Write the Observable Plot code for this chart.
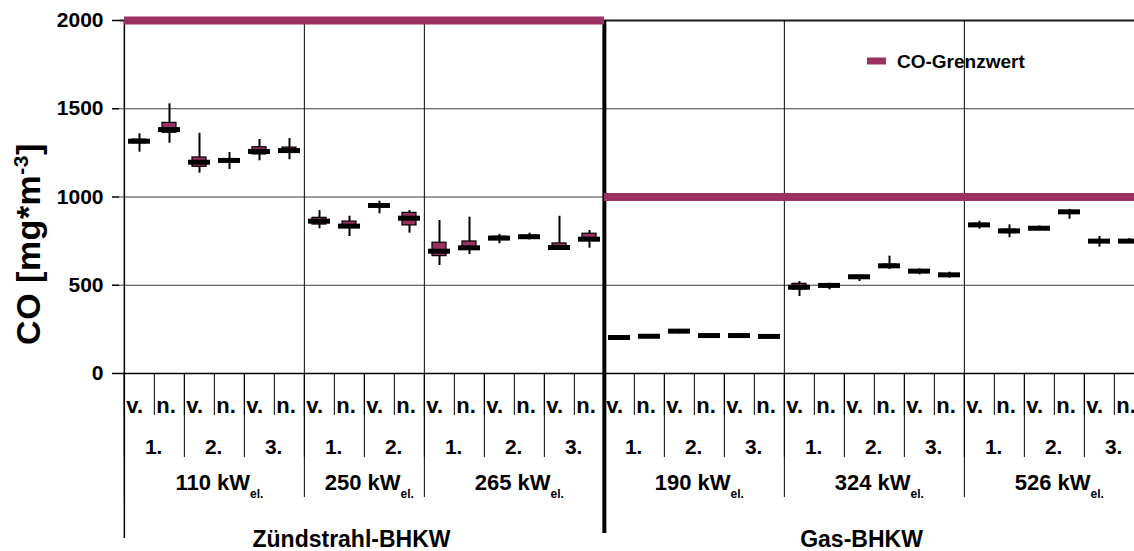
<!DOCTYPE html>
<html><head><meta charset="utf-8">
<script src="https://cdn.jsdelivr.net/npm/d3@7"></script>
<script src="https://cdn.jsdelivr.net/npm/@observablehq/plot@0.6"></script>
<style>
html,body{margin:0;padding:0;background:#fff;overflow:hidden;}
#chart{width:1134px;height:551px;overflow:hidden;}
</style></head><body><div id="chart"></div>
<script>
// ---- data ----
const groups = ["Zündstrahl-BHKW", "Gas-BHKW"];
const limits = [2000, 1000];
const engines = ["110", "250", "265", "190", "324", "526"];
const engineGroup = [0, 0, 0, 1, 1, 1];
const measurementsPerEngine = [3, 2, 3, 3, 3, 3];
const phases = ["v.", "n."];
const yTicks = [0, 500, 1000, 1500, 2000];
const legendLabel = "CO-Grenzwert";
const yLabelParts = ["CO [mg*m", "-3", "]"];

const whiskerLow  = [1254,1305,1135,1156,1205,1211, 820,776,905,795, 612,674,735,757,697,710,
                     198,204,225,210,207,198, 436,474,521,589,559,540, 818,769,812,874,716,738];
const quart1      = [1305,1364,1171,1198,1241,1252, 844,825,945,839, 665,705,757,770,707,754,
                     200,207,235,212,211,206, 476,490,543,603,575,555, 836,795,818,910,745,745];
const median      = [1316,1382,1197,1207,1258,1263, 863,835,952,880, 693,712,767,775,714,761,
                     204,211,240,215,215,210, 489,499,548,610,580,559, 842,808,823,916,750,750];
const quart3      = [1325,1420,1224,1215,1282,1280, 882,861,958,910, 741,748,775,780,737,792,
                     208,214,243,218,218,213, 508,505,553,617,585,563, 848,815,828,921,755,755];
const whiskerHigh = [1358,1528,1361,1252,1326,1331, 923,891,976,923, 867,886,788,795,891,810,
                     210,216,245,220,222,218, 521,512,556,665,593,574, 863,842,836,930,776,765];

// ---- build table ----
const cats = [];
engines.forEach((e, ei) => {
  for (let m = 1; m <= measurementsPerEngine[ei]; m++)
    for (const p of phases) cats.push({id: `${e}|${m}|${p}`, engine: e, m, phase: p, group: engineGroup[ei]});
});
const data = cats.map((c, i) => ({...c, lo: whiskerLow[i], q1: quart1[i], med: median[i], q3: quart3[i], hi: whiskerHigh[i]}));
const domain = data.map(d => d.id);
const xRange = [119, 1149];
const step = (xRange[1] - xRange[0]) / domain.length;

const isFirst = (key) => data.filter((d, i) => i === 0 || data[i - 1][key] !== d[key]);
const engineStarts = isFirst("engine");
const groupStarts = isFirst("group");
const measStarts = data.filter(d => d.phase === "v.");
const engineMid = engines.map(e => { const a = data.filter(d => d.engine === e); return a[a.length / 2]; });
const groupMid = groups.map((g, gi) => { const a = data.filter(d => d.group === gi); return a[Math.floor((a.length - 1) / 2)]; });
const groupOfId = new Map(groupMid.map((d, gi) => [d.id, groups[gi]]));
const limitSpans = groups.map((g, gi) => { const a = data.filter(d => d.group === gi); return {x1: a[0].id, x2: a[a.length - 1].id, y: limits[gi]}; });

const magenta = "#9b3163";
const font = "'Liberation Sans', Arial, Helvetica, sans-serif";
const bold = {fontWeight: "bold", label: null};

const plot = Plot.plot({
  width: 1134, height: 551,
  marginLeft: 119, marginRight: 0, marginTop: 20, marginBottom: 178,
  style: {fontFamily: font, background: "#fff", overflow: "hidden", color: "#000"},
  x: {type: "band", domain, range: xRange, padding: 0, axis: null},
  y: {domain: [0, 2000], axis: null},
  marks: [
    Plot.ruleY([500, 1000, 1500], {stroke: "#3c3c3c", strokeWidth: 1}),
    Plot.ruleY([2000], {stroke: "#1a1a1a", strokeWidth: 2}),
    // separators inside the frame
    Plot.ruleX(engineStarts.filter(d => !groupStarts.includes(d)), {x: "id", dx: -step / 2, stroke: "#000", strokeWidth: 1}),
    Plot.ruleX(groupStarts.slice(1), {x: "id", dx: -step / 2, stroke: "#000", strokeWidth: 4}),
    Plot.ruleX(groupStarts.slice(0, 1), {x: "id", dx: -step / 2, stroke: "#000", strokeWidth: 1.5}),
    // separators below the frame (axis ticks at band boundaries)
    Plot.axisX(domain, {tickSize: 42, dx: -step / 2, tickFormat: () => "", strokeWidth: 1, label: null}),
    Plot.axisX(measStarts.map(d => d.id), {tickSize: 84, dx: -step / 2, tickFormat: () => "", strokeWidth: 1, label: null}),
    Plot.axisX(engineStarts.map(d => d.id), {tickSize: 124, dx: -step / 2, tickFormat: () => "", strokeWidth: 1, label: null}),
    Plot.axisX(groupStarts.slice(1).map(d => d.id), {tickSize: 160, dx: -step / 2, tickFormat: () => "", strokeWidth: 4, label: null}),
    Plot.axisX(groupStarts.slice(0, 1).map(d => d.id), {tickSize: 165, dx: -step / 2, tickFormat: () => "", strokeWidth: 1.5, label: null}),
    // limit lines
    Plot.ruleY(limitSpans, {x1: "x1", x2: "x2", y: "y", stroke: magenta, strokeWidth: 8}),
    // box plots
    Plot.ruleX(data, {x: "id", y1: "lo", y2: "hi", stroke: "#000", strokeWidth: 2}),
    Plot.barY(data, {x: "id", y1: "q1", y2: "q3", fill: magenta, stroke: "#000", strokeWidth: 1.2, insetLeft: 8, insetRight: 8}),
    Plot.tickY(data, {x: "id", y: "med", stroke: "#000", strokeWidth: 5, insetLeft: 4, insetRight: 4}),
    Plot.ruleY([0], {stroke: "#000", strokeWidth: 1.5}),
    // y axis
    Plot.axisY(yTicks, {tickSize: 7, tickPadding: 9, fontSize: 21, strokeWidth: 1.5, tickFormat: d => String(d), ...bold}),
    // category labels
    Plot.axisX(domain, {tickSize: 0, tickPadding: 24, tickFormat: id => id.split("|")[2], textAnchor: "start", dx: -step / 2 + 2, fontSize: 22, ...bold}),
    Plot.axisX(measStarts.map(d => d.id), {tickSize: 0, tickPadding: 66, tickFormat: id => id.split("|")[1] + ".", dx: step / 2 - 1, fontSize: 21, ...bold}),
    Plot.axisX(engineMid.map(d => d.id), {tickSize: 0, tickPadding: 101, tickFormat: id => id.split("|")[0] + " kW_el.", dx: -step / 2 + 5, fontSize: 22, ...bold}),
    Plot.axisX(groupMid.map(d => d.id), {tickSize: 0, tickPadding: 157, tickFormat: id => groupOfId.get(id), dx: 2, fontSize: 23, ...bold})
  ]
});

const svg = d3.select(plot);
// subscripts "el."
svg.selectAll("text").each(function () {
  const t = this.textContent;
  if (t.includes("_el.")) {
    const [main] = t.split("_");
    this.textContent = main;
    d3.select(this).append("tspan").attr("dy", 8).attr("font-size", 12).text("el.");
  }
});
// y axis title with superscript
const yl = svg.append("text")
  .attr("transform", "translate(40,244) rotate(-90)")
  .attr("text-anchor", "middle").attr("font-size", 34).attr("font-weight", "bold")
  .attr("letter-spacing", 0.5)
  .attr("font-family", font).attr("fill", "#000");
yl.append("tspan").text(yLabelParts[0]);
yl.append("tspan").attr("dy", -12).attr("font-size", 21).text(yLabelParts[1]);
yl.append("tspan").attr("dy", 12).text(yLabelParts[2]);
// legend
const lg = svg.append("g");
lg.append("rect").attr("x", 867).attr("y", 57.5).attr("width", 19).attr("height", 7).attr("fill", magenta);
lg.append("text").attr("x", 897).attr("y", 68).attr("font-size", 19).attr("font-weight", "bold")
  .attr("text-anchor", "start").attr("font-family", font).attr("fill", "#000").text(legendLabel);

document.getElementById("chart").appendChild(plot);
</script></body></html>
